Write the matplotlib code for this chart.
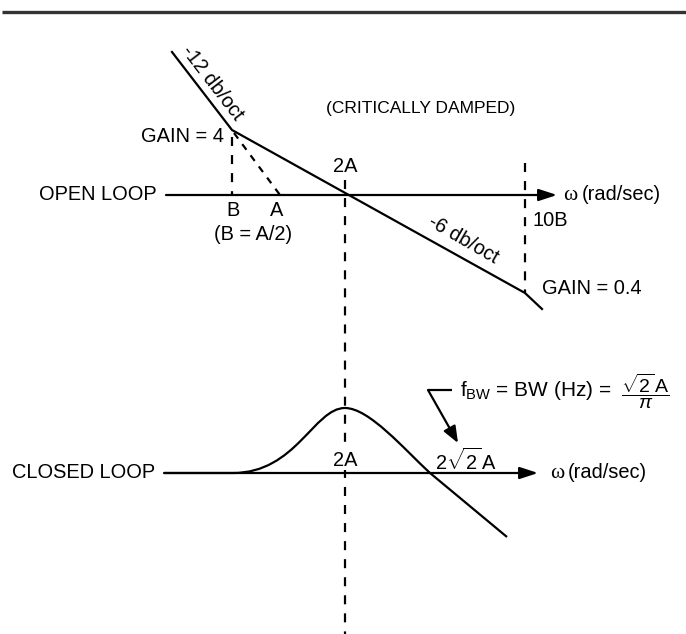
import matplotlib
matplotlib.use('Agg')
import matplotlib.pyplot as plt
from matplotlib.path import Path
from matplotlib.patches import PathPatch

plt.rcParams['font.family'] = ['Liberation Sans', 'DejaVu Sans']
plt.rcParams['mathtext.fontset'] = 'custom'
plt.rcParams['mathtext.rm'] = 'Liberation Sans'
plt.rcParams['mathtext.it'] = 'Liberation Sans:italic'
plt.rcParams['mathtext.sf'] = 'Liberation Sans'
plt.rcParams['lines.scale_dashes'] = False

# ---- diagram data (drawing units = pixels of the original sheet) ----
# open-loop asymptotic gain curve: -12 db/oct, break at GAIN=4 (B), -6 db/oct to 10B, then roll-off
open_loop_x = [172, 232, 525, 542]
open_loop_y = [52, 130, 293, 309]
# extrapolated -12 db/oct segment down to A
extrap_x = [234, 280]
extrap_y = [133, 195]
# closed-loop response (critically damped): nodes and Bezier handles
closed_loop_x = [164, 233, 296, 314, 345, 369, 404, 430, 507]
closed_loop_y = [473, 473, 473, 408, 408, 408, 449, 473, 537]
closed_loop_codes = [Path.MOVETO, Path.LINETO,
                     Path.CURVE4, Path.CURVE4, Path.CURVE4,
                     Path.CURVE4, Path.CURVE4, Path.CURVE4,
                     Path.LINETO]
# axes of the two sketches
open_axis_y = 195
open_axis_x = [166, 557]
closed_axis_y = 473
closed_axis_x = [164, 538]
# reference frequencies (x positions)
freq_B = 232
freq_2A = 345
freq_10B = 525
# bandwidth pointer
pointer_x = [452, 428, 458]
pointer_y = [390, 390, 443]

W, H = 686, 634
fig = plt.figure(figsize=(6.86, 6.34), dpi=100)
ax = fig.add_axes([0, 0, 1, 1])
ax.set_xlim(0, W)
ax.set_ylim(H, 0)
ax.axis('off')

LW = 1.6
DASH = (0, (6.5, 6.5))
FS = 14.4

# top rule
ax.plot([2, W], [12, 12], color='#333333', lw=2.4, solid_capstyle='butt')

# open loop
ax.plot(open_loop_x, open_loop_y, color='k', lw=LW, solid_joinstyle='miter')
ax.plot(extrap_x, extrap_y, color='k', lw=LW, ls=(0, (5, 5)))
ax.plot([freq_B, freq_B], [137, open_axis_y], color='k', lw=LW, ls=DASH)
ax.plot([freq_10B, freq_10B], [163, 293], color='k', lw=LW, ls=DASH)
ax.plot([freq_2A, freq_2A], [180, H], color='k', lw=LW, ls=DASH)

arrow_style = dict(arrowstyle='-|>,head_length=1.1,head_width=0.36', lw=LW,
                   color='k', shrinkA=0, shrinkB=0, mutation_scale=10)
ax.annotate('', xy=(open_axis_x[1], open_axis_y), xytext=(open_axis_x[0], open_axis_y),
            arrowprops=arrow_style)
ax.annotate('', xy=(closed_axis_x[1], closed_axis_y), xytext=(closed_axis_x[0], closed_axis_y),
            arrowprops=arrow_style)

# closed loop curve
cl_path = Path(list(zip(closed_loop_x, closed_loop_y)), closed_loop_codes)
ax.add_patch(PathPatch(cl_path, facecolor='none', edgecolor='k', lw=LW))

# bandwidth pointer
ax.plot(pointer_x[:2], pointer_y[:2], color='k', lw=LW, solid_capstyle='butt')
ax.annotate('', xy=(pointer_x[2], pointer_y[2]), xytext=(pointer_x[1], pointer_y[1]),
            arrowprops=dict(arrowstyle='-|>,head_length=1.0,head_width=0.4', lw=LW,
                            color='k', shrinkA=0, shrinkB=0, mutation_scale=10))

def t(x, y, s, ha='center', va='center', **kw):
    kw.setdefault('fontsize', FS)
    ax.text(x, y, s, ha=ha, va=va, **kw)

t(157, open_axis_y, 'OPEN LOOP', ha='right')
t(155, closed_axis_y, 'CLOSED LOOP', ha='right')
t(224, 136, 'GAIN = 4', ha='right')
t(421, 109, '(CRITICALLY DAMPED)', fontsize=12.5)
t(freq_2A, 166, '2A')
t(232.5, 210, 'B')
t(277, 210, 'A')
t(253, 234, '(B = A/2)')
t(533, 221, '10B', ha='left')
t(542, 288, 'GAIN = 0.4', ha='left')
t(212, 83, '-12 db/oct', rotation=-52.5, rotation_mode='anchor')
t(463, 240, '-6 db/oct', rotation=-30, rotation_mode='anchor')
t(freq_2A, 460, '2A', bbox=dict(facecolor='white', edgecolor='none', pad=0.5))
t(435, 461, r'$2\sqrt{2}\,\mathrm{A}$', ha='left')

# omega axis labels
t(563, open_axis_y, 'ω', ha='left', fontsize=15.5, family=['Liberation Serif', 'DejaVu Serif'])
t(582, open_axis_y, '(rad/sec)', ha='left')
t(550, closed_axis_y, 'ω', ha='left', fontsize=15.5, family=['Liberation Serif', 'DejaVu Serif'])
t(568, closed_axis_y, '(rad/sec)', ha='left')

# bandwidth formula
t(460, 391, r'f$_{\mathrm{BW}}$ = BW (Hz) =', ha='left', fontsize=15)
t(645, 391, r'$\dfrac{\sqrt{2}\,\mathrm{A}}{\pi}$', fontsize=14)

fig.savefig('out.png', dpi=100)
